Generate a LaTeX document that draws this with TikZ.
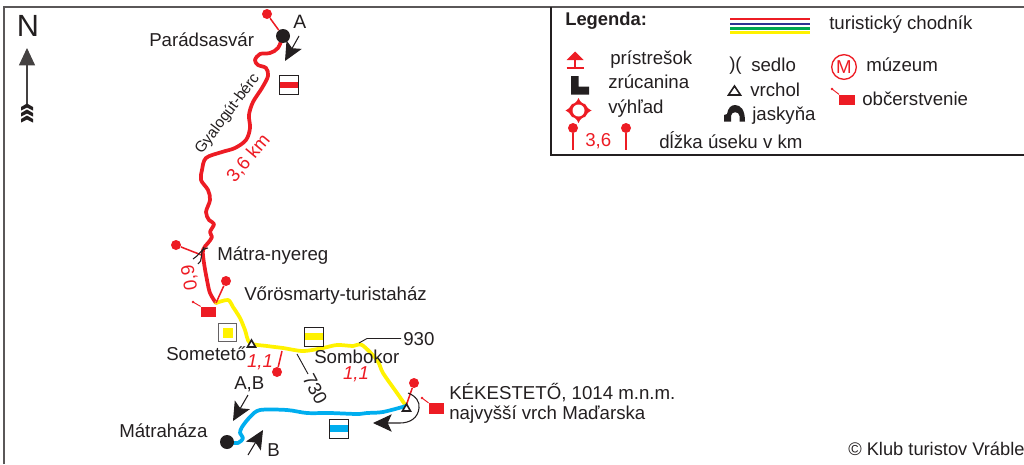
\documentclass[tikz,border=0pt]{standalone}
\usepackage{fontspec}
\setmainfont{Liberation Sans}
\usetikzlibrary{arrows.meta,calc}
\definecolor{tred}{HTML}{ED1C24}
\definecolor{tyel}{HTML}{FFF200}
\definecolor{tblu}{HTML}{00AEEF}
\definecolor{tgrn}{HTML}{00A651}
\definecolor{tnav}{HTML}{2E3192}
\definecolor{ink}{HTML}{231F20}
\tikzset{
 lab/.style={inner sep=0pt,text=ink,font=\fontsize{14}{15}\selectfont,anchor=west},
 redlab/.style={inner sep=0pt,text=tred,font=\fontsize{14}{15}\selectfont},
 route/.style={line width=2.8pt,line join=round,line cap=round},
 pin/.style={draw=tred,line width=1.15pt},
 pinhead/.style={circle,fill=tred,inner sep=0pt,minimum size=7.5pt},
 stop/.style={circle,fill=ink,inner sep=0pt,minimum size=10.5pt},
 sign/.style={draw=ink,line width=.5pt,fill=white,minimum width=14pt,minimum height=14pt,inner sep=0pt},
 dirarrow/.style={draw=ink,line width=.8pt,-{Stealth[length=14pt,width=13pt,inset=3pt]}},
 peak/.style={fill=white,draw=ink,line width=1.2pt,line join=miter},
 leader/.style={draw=ink,line width=.7pt},
 shop/.style={fill=tred,minimum width=11.5pt,minimum height=8pt,inner sep=0pt},
 flag/.style={draw=tred,line width=.7pt},
}
\begin{document}
\begin{tikzpicture}[x=.75pt,y=-.75pt]
\useasboundingbox (0,0) rectangle (1024,464);
% frame
\draw[draw=ink!75,line width=1.1pt] (4,464) -- (4,7) -- (1024,7);
\draw[draw=ink,line width=.9pt] (551,7) -- (551,155) -- (1024,155);
% north
\node[inner sep=0pt,text=ink,font=\fontsize{23}{25}\selectfont] (north) at (28,26) {N};
\coordinate (ntop) at (27,48);
\coordinate (nbot) at (27,104);
\draw[draw=ink!85,line width=.8pt,-{Stealth[length=13pt,width=12pt,inset=0pt]}] (nbot) -- (ntop);
\foreach \y in {107,113,119}
  \fill[ink] (21,\y) -- (27,\y-3.5) -- (33,\y) -- (33,\y+3.5) -- (27,\y+0.5) -- (21,\y+3.5) -- cycle;
% routes
\coordinate (rA) at (283,36);
\coordinate (rV) at (216,303);
\coordinate (rK) at (406,406);
\coordinate (rM) at (227,442);
\draw[route,tred] plot[smooth,tension=.55] coordinates {(rA) (278,48) (270,53) (260,54) (255,60) (258,65) (266,68) (268,76) (262,88) (253,102) (249,115) (250,128) (246,140) (235,148) (222,152) (206,158) (202,170) (201,180) (208,190) (210,200) (206,212) (209,220) (214,224) (210,232) (212,237) (208,243) (203,250) (204,263) (207,280) (210,293) (rV)};
\draw[route,tyel] plot[smooth,tension=.5] coordinates {(rV) (228,300) (233,307) (240,318) (245,330) (250,343) (267,346) (283,348) (303,351) (323,348) (337,345) (353,346) (362,345) (377,360) (383,373) (397,393) (rK)};
\draw[route,tblu] plot[smooth,tension=.5] coordinates {(rK) (383,412) (367,413) (357,414) (330,413) (307,413) (287,410) (260,410) (250,417) (242,427) (240,433) (243,438) (238,443) (rM)};
% stops
\node[stop] (stopA) at (rA) {};
\node[stop] (stopM) at (rM) {};
% length pins
\node[pinhead] (p1) at (267,14) {};
\draw[pin] (p1) -- (stopA);
\node[pinhead] (p2) at (176,245) {};
\coordinate (p2e) at (204,256);
\draw[pin] (p2) -- (p2e);
\node[pinhead] (p3) at (226,281) {};
\draw[pin] (p3) -- (rV);
\node[pinhead] (p4) at (277,372) {};
\coordinate (p4e) at (282,351);
\draw[pin] (p4) -- (p4e);
\node[pinhead] (p5) at (414,383) {};
\draw[pin] (p5) -- (rK);
% saddle
\draw[ink,line width=.8pt] (193,259) .. controls (199,256) and (200,249) .. (208,248);
\draw[ink,line width=.8pt] (198,264) .. controls (203,262) and (200,252) .. (204,247);
% peaks
\draw[peak] (247.5,347) -- (251.5,340) -- (255.5,347) -- cycle;
\draw[peak] (402.5,411) -- (406.5,404) -- (410.5,411) -- cycle;
% signs
\node[sign] (s1) at (289,85) {};
\fill[tred] ($(s1.west)+(0,-3.4)$) rectangle ($(s1.east)+(0,3.4)$);
\draw[ink,line width=.5pt] (s1.south west) rectangle (s1.north east);
\node[sign,draw=ink!70,line width=.8pt] (s2) at (227.5,332.5) {};
\fill[tyel] ($(s2.center)+(-5,-5)$) rectangle ($(s2.center)+(5,5)$);
\node[sign] (s3) at (313.5,336.5) {};
\fill[tyel] ($(s3.west)+(0,-3.6)$) rectangle ($(s3.east)+(0,3.6)$);
\draw[ink,line width=.5pt] (s3.south west) rectangle (s3.north east);
\node[sign] (s4) at (339,428.5) {};
\fill[tblu] ($(s4.west)+(0,-3.2)$) rectangle ($(s4.east)+(0,3.2)$);
\draw[ink,line width=.5pt] (s4.south west) rectangle (s4.north east);
% refreshments
\node[shop] (shop1) at (208.5,312) {};
\coordinate (fl1) at (193,302);
\draw[flag] (fl1) -- (shop1.north west);
\fill[tred] (fl1) circle (1.3);
\node[shop] (shop2) at (436.5,408.5) {};
\coordinate (fl2) at (422,398);
\draw[flag] (fl2) -- (shop2.north west);
\fill[tred] (fl2) circle (1.3);
% direction arrows
\coordinate (dA1) at (299,36); \coordinate (dA2) at (285,61);
\draw[dirarrow] (dA1) -- (dA2);
\coordinate (dB1) at (248,395); \coordinate (dB2) at (233,421);
\draw[dirarrow] (dB1) -- (dB2);
\coordinate (dC1) at (248,455); \coordinate (dC2) at (263,430);
\draw[dirarrow] (dC1) -- (dC2);
\draw[dirarrow] (408,393) .. controls (416,396) and (420,402) .. (419,408) .. controls (418,418) and (410,423) .. (400,423) -- (373,423);
% leaders
\coordinate (l1) at (359,343); \coordinate (l2) at (367,338.5); \coordinate (l3) at (401,338.5);
\draw[leader] (l1) -- (l2) -- (l3);
\coordinate (l4) at (297,354); \coordinate (l5) at (308,374);
\draw[leader] (l4) -- (l5);
% map labels
\node[lab] (t1) at (149,40) {Parádsasvár};
\node[lab,font=\fontsize{14.5}{15}\selectfont] (t2) at (293,22) {A};
\node[lab,font=\fontsize{11.5}{13}\selectfont,anchor=center,rotate=53] (t3) at (227.5,114) {Gyalogút-bérc};
\node[redlab,rotate=50,anchor=center] (t4) at (248.5,158) {3,6 km};
\node[redlab,rotate=99,anchor=center] (t5) at (190,278) {0,9};
\node[lab] (t6) at (217,256) {Mátra-nyereg};
\node[lab] (t7) at (244,296) {Vőrösmarty-turistaház};
\node[lab] (t8) at (166,354) {Sometető};
\node[lab] (t9) at (314,357) {Sombokor};
\node[redlab,font=\fontsize{14}{15}\selectfont\itshape,anchor=center] (t10) at (260,362) {1,1};
\node[redlab,font=\fontsize{14}{15}\selectfont\itshape,anchor=center] (t11) at (356,374) {1,1};
\node[lab] (t12) at (403,339) {930};
\node[lab,anchor=center,rotate=-62] (t13) at (315,389) {730};
\node[lab] (t14) at (234,384) {A,B};
\node[lab] (t15) at (119,431) {Mátraháza};
\node[lab] (t16) at (267,450) {B};
\node[lab] (t17) at (449,393) {KÉKESTETŐ, 1014 m.n.m.};
\node[lab] (t18) at (449,415) {najvyšší vrch Maďarska};
\node[lab,font=\fontsize{13.7}{15}\selectfont] (t19) at (848,449) {© Klub turistov Vráble};
% legend
\node[lab,font=\fontsize{13.8}{15}\selectfont\bfseries] (g0) at (565,21) {Legenda:};
\foreach \c/\y in {tred/19,tnav/24,tgrn/28.5,tyel/32.5}
  \draw[\c,line width=1.7pt] (730,\y) -- (810,\y);
\node[lab] (g1) at (829,25) {turistický chodník};
\node[lab] (g2) at (610,60) {prístrešok};
\node[lab] (g3) at (608,82) {zrúcanina};
\node[lab] (g4) at (608,109) {výhľad};
\node[lab] (g5) at (659,140) {dĺžka úseku v km};
\node[redlab,anchor=west] (g6) at (585,141) {3,6};
\node[lab] (g7) at (751,65) {sedlo};
\node[lab] (g8) at (750,90) {vrchol};
\node[lab] (g9) at (752,116) {jaskyňa};
\node[lab] (g10) at (866,65) {múzeum};
\node[lab] (g11) at (862,99) {občerstvenie};
\node[lab] (g12) at (729,66) {)(};
% shelter
\fill[tred] (575,51.5) -- (583.5,60) -- (566.5,60) -- cycle;
\draw[tred,line width=1.1pt] (575,59) -- (575,68) (566.5,68) -- (583.5,68);
% ruin
\fill[ink] (571,76) -- (578.5,76) -- (578.5,86.5) -- (589,86.5) -- (589,94.5) -- (571,94.5) -- cycle;
% viewpoint
\fill[tred] (578.5,98) .. controls (580,102) and (583,104) .. (585,104) .. controls (586,106) and (588,109) .. (591.5,110.5) .. controls (588,112) and (586,115) .. (585,117) .. controls (583,117) and (580,119) .. (578.5,123) .. controls (577,119) and (574,117) .. (572,117) .. controls (571,115) and (569,112) .. (565.5,110.5) .. controls (569,109) and (571,106) .. (572,104) .. controls (574,104) and (577,102) .. (578.5,98) -- cycle;
\fill[white] (578.5,110.5) circle (6);
% legend pins
\node[pinhead] (gp1) at (573,128) {};
\coordinate (gp1e) at (573,150);
\draw[pin] (gp1) -- (gp1e);
\node[pinhead] (gp2) at (626,128) {};
\coordinate (gp2e) at (626,150);
\draw[pin] (gp2) -- (gp2e);
% peak
\draw[peak] (728.5,95) -- (734.5,86) -- (740.5,95) -- cycle;
% cave
\fill[ink] (724,121.5) -- (724,115) -- (727,114) .. controls (728,108) and (731,105) .. (735,105) .. controls (741,105) and (745,110) .. (745,121.5) -- (739.5,121.5) -- (739.5,116) .. controls (739.5,111) and (731,111) .. (731,116) -- (731,121.5) -- cycle;
% museum
\node[circle,draw=tred,line width=1pt,text=tred,inner sep=0pt,minimum size=18.5pt,font=\fontsize{14}{15}\selectfont] (gm) at (844,67) {M};
% legend shop
\node[shop] (gs) at (847,100) {};
\coordinate (gf) at (832,89);
\draw[flag] (gf) -- (gs.north west);
\fill[tred] (gf) circle (1.3);
\end{tikzpicture}
\end{document}
